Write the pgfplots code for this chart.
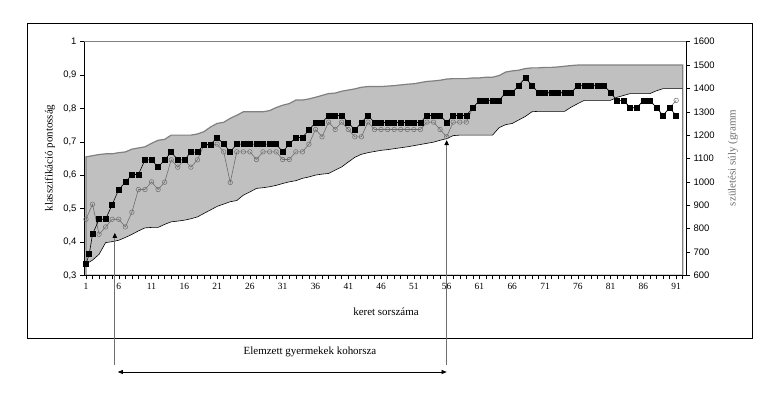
\documentclass[border=0pt]{standalone}
\usepackage{pgfplots}
\pgfplotsset{compat=1.18}
\usepackage{pgfplotstable}
\usepackage{fontspec}
\setmainfont{Liberation Serif}
\newfontfamily\arial{Liberation Sans}
\usetikzlibrary{arrows.meta}
\definecolor{bandgray}{RGB}{192,192,192}
\definecolor{bandedge}{RGB}{128,128,128}
\definecolor{circgray}{RGB}{110,110,110}

\pgfplotstableread{
x U L
1 1107 648
2 1112 665
3 1117 690
4 1120 740
5 1120 744
6 1125 750
7 1128 762
8 1140 775
9 1145 790
10 1150 803
11 1165 805
12 1178 805
13 1182 818
14 1200 829
15 1200 832
16 1200 836
17 1200 842
18 1205 850
19 1215 865
20 1235 880
21 1250 895
22 1255 905
23 1272 915
24 1285 920
25 1300 943
26 1300 957
27 1300 972
28 1300 975
29 1305 979
30 1318 985
31 1328 993
32 1335 1000
33 1350 1005
34 1350 1015
35 1355 1021
36 1362 1029
37 1370 1033
38 1378 1036
39 1380 1050
40 1388 1064
41 1393 1085
42 1398 1105
43 1405 1118
44 1408 1125
45 1408 1130
46 1408 1135
47 1410 1138
48 1412 1142
49 1415 1146
50 1418 1150
51 1420 1155
52 1425 1160
53 1430 1165
54 1432 1170
55 1435 1178
56 1440 1185
57 1442 1198
58 1442 1200
59 1442 1200
60 1445 1200
61 1445 1200
62 1448 1200
63 1448 1200
64 1455 1232
65 1470 1245
66 1475 1250
67 1478 1265
68 1485 1280
69 1488 1300
70 1488 1302
71 1490 1302
72 1490 1302
73 1492 1302
74 1495 1302
75 1498 1320
76 1500 1335
77 1500 1349
78 1500 1349
79 1500 1349
80 1500 1349
81 1500 1349
82 1500 1362
83 1500 1370
84 1500 1378
85 1500 1378
86 1500 1378
87 1500 1378
88 1500 1390
89 1500 1399
90 1500 1399
91 1500 1399
92 1500 1399
}\band

\begin{document}
\begin{tikzpicture}[x=1bp,y=1bp]
\useasboundingbox (0,0) rectangle (776,395);
\draw[line width=1bp] (27.5,57) rectangle (752,371);

\pgfplotsset{
  common/.style={
    at={(84bp,119.7bp)}, anchor=south west,
    width=602bp, height=233.6bp, scale only axis,
    xmin=0.7, xmax=92.5,
    tick align=outside,
    major tick length=4bp, minor tick length=4bp,
    tick style={black, line width=0.5bp},
    axis line style={black, line width=0.8bp},
    /pgf/number format/assume math mode=true,
  }
}

\begin{axis}[common,
  ymin=600, ymax=1600,
  axis x line=none, axis y line*=right,
  ytick={600,700,...,1600},
  yticklabel style={font=\arial\fontsize{9.5}{11}\selectfont, /pgf/number format/1000 sep={}},
]
\addplot[fill=bandgray, draw=none] table[x=x,y=U] {\band} \closedcycle;
\addplot[fill=white, draw=none] table[x=x,y=L] {\band} \closedcycle;
\addplot[draw=bandedge, line width=1.2bp, fill=none] table[x=x,y=U] {\band} \closedcycle;
\addplot[draw=black, line width=0.6bp] table[x=x,y=L] {\band};
\end{axis}

\begin{axis}[common,
  ymin=0.3, ymax=1,
  axis y line*=left, axis x line*=bottom,
  ytick={0.3,0.4,0.5,0.6,0.7,0.8,0.9,1},
  yticklabel style={font=\arial\fontsize{9.5}{11}\selectfont, /pgf/number format/.cd, use comma, fixed, precision=1},
  xtick={1,6,...,91},
  minor xtick={1,...,92},
  xticklabel style={font=\fontsize{9.5}{11}\selectfont},
]
\draw[bandedge, line width=0.8bp] (rel axis cs:0,1) -- (rel axis cs:1,1);
\addplot[draw=circgray, line width=0.6bp, mark=o, mark size=2.3bp, mark options={draw=circgray, line width=0.5bp}] coordinates {
(1,0.468)(2,0.513)(3,0.423)(4,0.445)(5,0.468)(6,0.468)(7,0.445)(8,0.489)(9,0.557)(10,0.557)
(11,0.580)(12,0.557)(13,0.579)(14,0.646)(15,0.624)(16,0.646)(17,0.624)(18,0.646)(19,0.690)(20,0.690)
(21,0.693)(22,0.670)(23,0.578)(24,0.670)(25,0.670)(26,0.670)(27,0.647)(28,0.670)(29,0.670)(30,0.670)
(31,0.647)(32,0.647)(33,0.670)(34,0.670)(35,0.693)(36,0.737)(37,0.715)(38,0.759)(39,0.737)(40,0.759)
(41,0.737)(42,0.715)(43,0.715)(44,0.759)(45,0.737)(46,0.737)(47,0.737)(48,0.737)(49,0.737)(50,0.737)
(51,0.737)(52,0.737)(53,0.759)(54,0.759)(55,0.737)(56,0.715)(57,0.759)(58,0.759)(59,0.759)(60,0.802)
(61,0.824)(62,0.824)(63,0.824)(64,0.824)(65,0.847)(66,0.847)(67,0.869)(68,0.892)(69,0.869)(70,0.847)
(71,0.847)(72,0.847)(73,0.847)(74,0.847)(75,0.847)(76,0.869)(77,0.869)(78,0.869)(79,0.869)(80,0.869)
(81,0.847)(82,0.824)(83,0.824)(84,0.802)(85,0.802)(86,0.824)(87,0.824)(88,0.802)(89,0.779)(90,0.802)
(91,0.824)
};
\addplot[draw=black, line width=0.6bp, mark=square*, mark size=2.5bp, mark options={fill=black}] coordinates {
(1,0.334)(1.5,0.364)(2,0.423)(3,0.468)(4,0.468)(5,0.512)(6,0.557)(7,0.579)(8,0.602)(9,0.602)(10,0.646)
(11,0.646)(12,0.624)(13,0.646)(14,0.669)(15,0.646)(16,0.646)(17,0.669)(18,0.669)(19,0.692)(20,0.692)
(21,0.713)(22,0.693)(23,0.670)(24,0.693)(25,0.693)(26,0.693)(27,0.693)(28,0.693)(29,0.693)(30,0.693)
(31,0.670)(32,0.693)(33,0.713)(34,0.713)(35,0.735)(36,0.758)(37,0.758)(38,0.779)(39,0.779)(40,0.779)
(41,0.758)(42,0.735)(43,0.758)(44,0.779)(45,0.758)(46,0.758)(47,0.758)(48,0.758)(49,0.758)(50,0.758)
(51,0.758)(52,0.758)(53,0.779)(54,0.779)(55,0.779)(56,0.758)(57,0.779)(58,0.779)(59,0.779)(60,0.802)
(61,0.824)(62,0.824)(63,0.824)(64,0.824)(65,0.847)(66,0.847)(67,0.869)(68,0.892)(69,0.869)(70,0.847)
(71,0.847)(72,0.847)(73,0.847)(74,0.847)(75,0.847)(76,0.869)(77,0.869)(78,0.869)(79,0.869)(80,0.869)
(81,0.847)(82,0.824)(83,0.824)(84,0.802)(85,0.802)(86,0.824)(87,0.824)(88,0.802)(89,0.779)(90,0.802)
(91,0.779)
};
\coordinate (tipA) at (axis cs:5.4,0.427);
\coordinate (tipB) at (axis cs:56,0.705);
\end{axis}

% axis titles
\node[rotate=90, font=\fontsize{11}{13}\selectfont] at (50,237) {klasszifikáció pontosság};
\node[rotate=90, font=\fontsize{11}{13}\selectfont, text=circgray] at (733,237) {születési súly (gramm};
\node[font=\fontsize{11}{13}\selectfont] at (386,83) {keret sorszáma};

% annotation
\draw[circgray, line width=0.7bp, -{Triangle[length=5bp,width=4.5bp,black]}] (tipA |- 0,30) -- (tipA);
\draw[circgray, line width=0.7bp, -{Triangle[length=5bp,width=4.5bp,black]}] (tipB |- 0,30) -- (tipB);
\draw[black, line width=0.6bp, {Triangle[length=5bp,width=4bp]}-{Triangle[length=5bp,width=4bp]}] ([xshift=3bp]tipA |- 0,23) -- (tipB |- 0,23);
\node[font=\fontsize{11}{13}\selectfont] at (310,43) {Elemzett gyermekek kohorsza};
\end{tikzpicture}
\end{document}
